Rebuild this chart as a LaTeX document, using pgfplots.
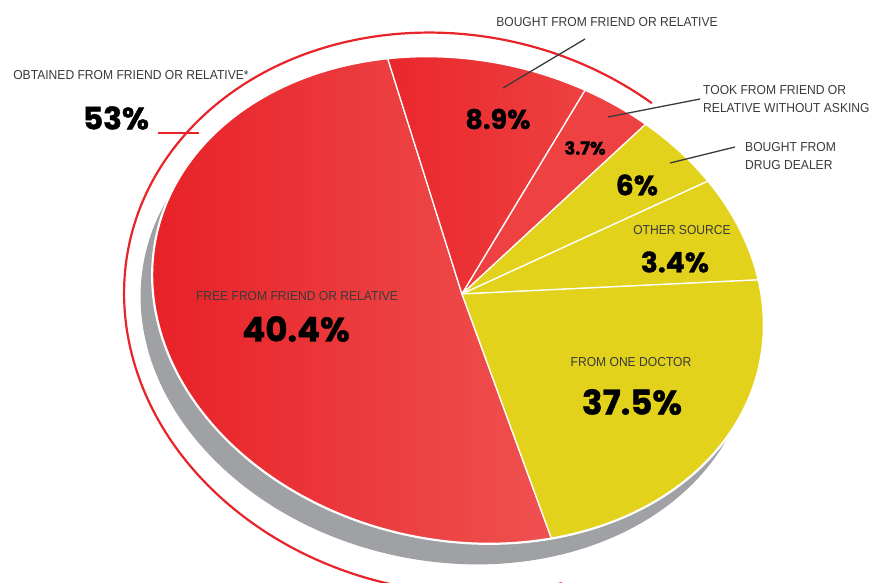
\documentclass[border=0pt]{standalone}
\usepackage{pgfplots}
\pgfplotsset{compat=1.18}
\usepackage{pgfplotstable}
\usepackage{fontspec}
\setmainfont{Liberation Sans}
\newfontfamily\heavy{Poppins}[BoldFeatures={FakeBold=1.2}]

\definecolor{pieRedL}{HTML}{E71E25}
\definecolor{pieRedR}{HTML}{EF5150}
\definecolor{pieRedM}{HTML}{E9272C}
\definecolor{pieRedB}{HTML}{EE4141}
\definecolor{pieYel}{HTML}{E3D21B}
\definecolor{shadowGray}{HTML}{9FA1A4}
\definecolor{arcRed}{HTML}{E8242A}
\definecolor{txt}{HTML}{3A3A3A}

\tikzset{
  lab/.style={font=\fontsize{13}{18}\selectfont, text=txt, inner sep=0pt},
  big/.style={font=\heavy\bfseries\fontsize{#1}{#1}\selectfont, text=black, inner sep=0pt},
  pie/.style={shift={(axis cs:458,300)}, rotate=-12, xscale=308, yscale=240},
}

% slices: angles (degrees, on the unit circle before the pie is squashed)
\pgfplotstableread{
pct   from   to     lcol     rcol
40.4  112.7  297.2  pieRedL  pieRedR
8.9   74.8   112.7  pieRedM  pieRedB
3.7   61.5   74.8   pieRedB  pieRedB
6     44.5   61.5   pieYel   pieYel
3.4   20.0   44.5   pieYel   pieYel
37.5  -62.8  20.0   pieYel   pieYel
}\slices

\newcommand\nar[1]{\scalebox{0.93}[1]{#1}}

\begin{document}
\begin{tikzpicture}
\begin{axis}[
    hide axis, scale only axis,
    width=878pt, height=583pt,
    xmin=0, xmax=878, ymin=0, ymax=583,
    y dir=reverse, clip=false,
]
\coordinate (SW) at (rel axis cs:0,0);
\coordinate (NE) at (rel axis cs:1,1);

% shadow and white rim
\fill[shadowGray, shift={(axis cs:446,321)}, rotate=-12, xscale=308, yscale=240]
    (0pt,0pt) circle[radius=1pt];
\draw[white, line width=3pt, pie] (0pt,0pt) circle[radius=1pt];

\pgfplotsextra{
  \foreach \i in {0,...,5}{
    \pgfplotstablegetelem{\i}{from}\of\slices \let\a\pgfplotsretval
    \pgfplotstablegetelem{\i}{to}\of\slices \let\b\pgfplotsretval
    \pgfplotstablegetelem{\i}{lcol}\of\slices \let\lc\pgfplotsretval
    \pgfplotstablegetelem{\i}{rcol}\of\slices \let\rc\pgfplotsretval
    \path[left color=\lc, right color=\rc, draw=white, line width=1.3pt, line join=round, pie]
      (0.0086pt,0.0279pt) -- (\a:1pt) arc[start angle=\a, end angle=\b, radius=1pt] -- cycle;
  }
}

% red bracket round the red slices
\draw[arcRed, line width=2.2pt, shift={(axis cs:452,313)}, rotate=-12, xscale=330, yscale=278]
    (62.6:1pt) arc[start angle=62.6, end angle=299.7, radius=1pt];
\draw[arcRed, line width=2.2pt] (158,133) -- (199,133);

% leader lines
\draw[txt, line width=1.3pt] (585,39) -- (503,88);
\draw[txt, line width=1.3pt] (700,99) -- (608,117);
\draw[txt, line width=1.3pt] (735,147) -- (670,163);

% labels
\node[lab] at (131,75) {\nar{OBTAINED FROM FRIEND OR RELATIVE*}};
\node[big=31] at (116,118) {53\%};
\node[lab] at (607,22) {\nar{BOUGHT FROM FRIEND OR RELATIVE}};
\node[big=27] at (498,119) {8.9\%};
\node[lab, anchor=west, align=left] at (703,99) {\nar{TOOK FROM FRIEND OR}\\\nar{RELATIVE WITHOUT ASKING}};
\node[big=18] at (585,148) {3.7\%};
\node[lab, anchor=west, align=left] at (745,156) {\nar{BOUGHT FROM}\\\nar{DRUG DEALER}};
\node[big=28] at (637,185) {6\%};
\node[lab] at (682,230) {\nar{OTHER SOURCE}};
\node[big=28] at (675,262) {3.4\%};
\node[lab] at (297,296) {\nar{FREE FROM FRIEND OR RELATIVE}};
\node[big=34] at (296,329) {40.4\%};
\node[lab] at (631,362) {\nar{FROM ONE DOCTOR}};
\node[big=34] at (632,402) {37.5\%};
\end{axis}
\pgfresetboundingbox
\useasboundingbox (SW) rectangle (NE);
\end{tikzpicture}
\end{document}
